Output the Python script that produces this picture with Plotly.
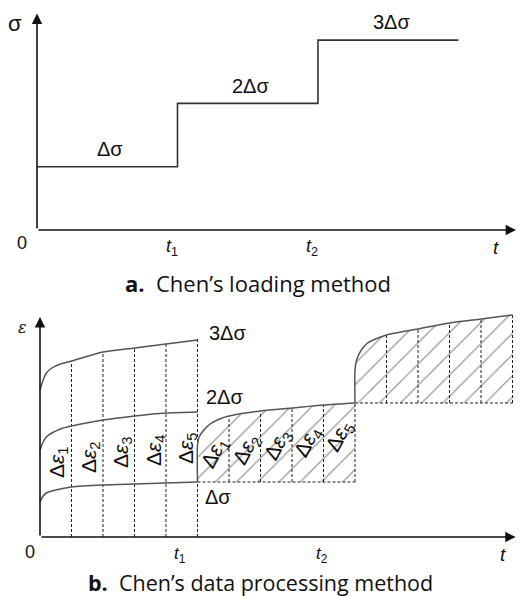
import plotly.graph_objects as go

# panel a: stepwise loading
step_t = [0, 1, 2, 3]
step_sigma = [1, 2, 3, 3]
step_labels = ["Δσ", "2Δσ", "3Δσ"]

# panel b: creep curves under Δσ, 2Δσ, 3Δσ
creep_t = [0, 0.02, 0.04, 0.075, 0.13, 0.2, 0.4, 0.6, 0.8, 1.0]
eps_1 = [0.35, 0.41, 0.44, 0.46, 0.48, 0.50, 0.52, 0.53, 0.54, 0.55]
eps_2 = [0.87, 0.95, 1.00, 1.04, 1.08, 1.11, 1.17, 1.21, 1.24, 1.25]
eps_3 = [1.47, 1.57, 1.64, 1.69, 1.73, 1.76, 1.85, 1.89, 1.93, 1.97]

seg2_t = [1.0, 1.0, 1.01, 1.04, 1.08, 1.14, 1.2, 1.4, 1.6, 1.8, 2.0]
seg2_eps = [0.55, 0.92, 1.00, 1.07, 1.13, 1.18, 1.21, 1.26, 1.29, 1.32, 1.34]
seg3_t = [2.0, 2.0, 2.01, 2.04, 2.08, 2.13, 2.2, 2.4, 2.6, 2.8, 3.0]
seg3_eps = [1.34, 1.67, 1.77, 1.87, 1.94, 1.98, 2.02, 2.08, 2.14, 2.18, 2.22]

div_t = [0.2, 0.4, 0.6, 0.8, 1.0]
eps_labels = ["Δ<i>ε</i><sub>1</sub>", "Δ<i>ε</i><sub>2</sub>", "Δ<i>ε</i><sub>3</sub>",
              "Δ<i>ε</i><sub>4</sub>", "Δ<i>ε</i><sub>5</sub>"]

ink = "#333"
fnt = "Liberation Sans, Arial, sans-serif"

# page body has an 8px margin, so the figure sits at (8, 8)
W, H = 516, 588
def px_x(p):
    return (p - 8) / W
def px_y(p):
    return 1 - (p - 8) / H

fig = go.Figure()

# ---- panel a
fig.add_trace(go.Scatter(x=step_t, y=step_sigma, mode="lines", line_shape="hv",
                         line=dict(color=ink, width=1.6), xaxis="x", yaxis="y"))

# ---- panel b
def lookup(ts, vs, t):
    return vs[ts.index(t)] if t in ts else vs[-1]

# dashed dividers
dx, dy = [], []
for t in div_t:
    dx += [t, t, None]
    dy += [0, lookup(creep_t, eps_3, t) + (0.02 if t == 1.0 else 0), None]
base2 = eps_1[-1]
dx += [seg2_t[0], seg2_t[-1], None]
dy += [base2, base2, None]
for t in div_t:
    t2 = round(t + 1, 2)
    dx += [t2, t2, None]
    dy += [base2, lookup(seg2_t, seg2_eps, t2), None]
base3 = seg2_eps[-1]
dx += [seg3_t[0], seg3_t[-1], None]
dy += [base3, base3, None]
for t in div_t:
    t3 = round(t + 2, 2)
    dx += [t3, t3, None]
    dy += [base3, lookup(seg3_t, seg3_eps, t3), None]

# hatched regions
for ts, ys, base in ((seg2_t, seg2_eps, base2), (seg3_t, seg3_eps, base3)):
    fig.add_trace(go.Scatter(x=ts + [ts[-1]], y=ys + [base], fill="toself",
                             mode="none", fillcolor="rgba(0,0,0,0)",
                             fillpattern=dict(shape="/", size=15, solidity=0.09,
                                              fgcolor="#3a3a3a", bgcolor="rgba(0,0,0,0)"),
                             xaxis="x2", yaxis="y2"))

fig.add_trace(go.Scatter(x=dx, y=dy, mode="lines",
                         line=dict(color="#222", width=1, dash="3px,2px"),
                         xaxis="x2", yaxis="y2"))

for ys in (eps_1, eps_2, eps_3):
    fig.add_trace(go.Scatter(x=creep_t, y=ys, mode="lines",
                             line=dict(color="#555", width=1.5, shape="spline", smoothing=0.7),
                             xaxis="x2", yaxis="y2"))
for ts, ys in ((seg2_t, seg2_eps), (seg3_t, seg3_eps)):
    fig.add_trace(go.Scatter(x=ts, y=ys, mode="lines",
                             line=dict(color="#555", width=1.5, shape="spline", smoothing=0.7),
                             xaxis="x2", yaxis="y2"))

ann = []

def arrow(xr, yr, x, y):
    ann.append(dict(x=x, y=y, ax=0, ay=0, xref=xr, yref=yr, axref=xr, ayref=yr,
                    text="", showarrow=True, arrowhead=2, arrowsize=1.3,
                    arrowwidth=1.6, arrowcolor="#111"))

def label(xr, yr, x, y, s, size=20, angle=0, f=fnt):
    ann.append(dict(x=x, y=y, xref=xr, yref=yr, text=s, showarrow=False,
                    xanchor="center", yanchor="middle",
                    textangle=angle, font=dict(family=f, size=size, color="#111")))

# panel a axes & text
arrow("x", "y", 3.41, 0)
arrow("x", "y", 0, 3.42)
label("x", "y", -0.155, 3.26, "σ", 22)
for i, s in enumerate(step_labels):
    label("x", "y", step_t[i] + 0.52, step_sigma[i] + 0.28, s)
label("x", "y", -0.107, -0.2, "0", 18)
label("x", "y", 0.96, -0.27, "<i>t</i><sub>1</sub>", 18)
label("x", "y", 1.96, -0.27, "<i>t</i><sub>2</sub>", 18)
label("x", "y", 3.27, -0.27, "<i>t</i>", 19)

# panel b axes & text
arrow("x2", "y2", 3.02, 0)
arrow("x2", "y2", 0, 2.2)
label("x2", "y2", -0.114, 2.10, "<i>ε</i>", 16, f="DejaVu Serif, serif")
label("x2", "y2", 1.19, 2.04, "3Δσ")
label("x2", "y2", 1.17, 1.40, "2Δσ")
label("x2", "y2", 1.13, 0.40, "Δσ")
label("x2", "y2", -0.063, -0.15, "0", 18)
label("x2", "y2", 0.89, -0.18, "<i>t</i><sub>1</sub>", 17)
label("x2", "y2", 1.79, -0.18, "<i>t</i><sub>2</sub>", 17)
label("x2", "y2", 2.94, -0.17, "<i>t</i>", 19)

lab1_x = [0.114, 0.317, 0.52, 0.73, 0.933]
lab1_y = [0.75, 0.80, 0.85, 0.87, 0.89]
lab2_x = [1.11, 1.31, 1.51, 1.70, 1.90]
lab2_y = [0.84, 0.87, 0.92, 0.95, 1.00]
for i, s in enumerate(eps_labels):
    label("x2", "y2", lab1_x[i], lab1_y[i], s, 21, -90)
    label("x2", "y2", lab2_x[i], lab2_y[i], s, 21, -62)

# captions
cap = "Open Sans, Noto Sans, sans-serif"
label("paper", "paper", px_x(258), px_y(283), "<b>a.</b>  Chen’s loading method", 22, f=cap)
label("paper", "paper", px_x(260), px_y(582), "<b>b.</b>  Chen’s data processing method", 21.5, f=cap)

ax_off = dict(visible=False, showgrid=False, zeroline=False, fixedrange=True)
fig.update_layout(
    width=W, height=H,
    margin=dict(l=0, r=0, t=0, b=0),
    plot_bgcolor="white", paper_bgcolor="white",
    showlegend=False,
    xaxis=dict(domain=[px_x(8.9), px_x(520)], range=[-0.2, 3.438], anchor="y", **ax_off),
    yaxis=dict(domain=[px_y(258.5), px_y(9.1)], range=[-0.45, 3.49], anchor="x", **ax_off),
    xaxis2=dict(domain=[px_x(8.5), px_x(520.4)], range=[-0.2, 3.05], anchor="y2", **ax_off),
    yaxis2=dict(domain=[px_y(567), px_y(307)], range=[-0.3, 2.3], anchor="x2", **ax_off),
    annotations=ann,
)

fig.write_html("out.html")
